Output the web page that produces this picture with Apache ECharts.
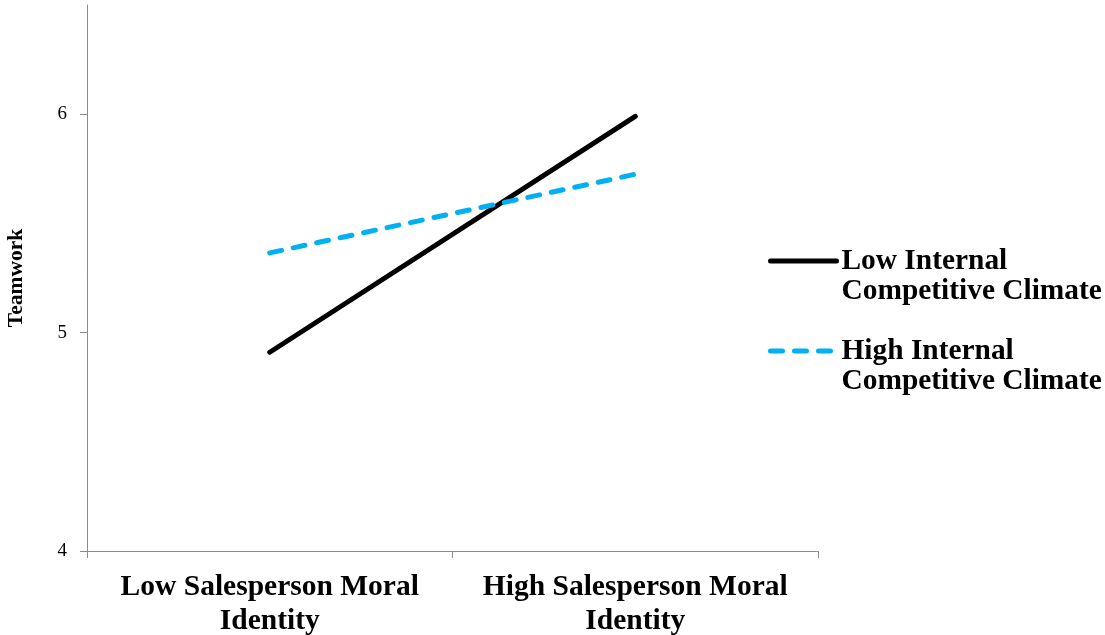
<!DOCTYPE html>
<html>
<head>
<meta charset="utf-8">
<script src="https://cdn.jsdelivr.net/npm/echarts@6/dist/echarts.min.js"></script>
<style>
html,body{margin:0;padding:0;background:#fff;}
#chart{width:1105px;height:635px;}
</style>
</head>
<body>
<div id="chart"></div>
<script>
const categories = ['Low Salesperson Moral\nIdentity', 'High Salesperson Moral\nIdentity'];
const seriesNames = ['Low Internal\nCompetitive Climate', 'High Internal\nCompetitive Climate'];
const lowClimate = [4.91, 5.99];
const highClimate = [5.365, 5.725];
const yTicks = [4, 5, 6];
const yTitle = 'Teamwork';

const font = '"Liberation Serif", "Times New Roman", serif';
const axisGrey = '#8c8c8c';

const chart = echarts.init(document.getElementById('chart'));
chart.setOption({
  backgroundColor: '#fff',
  animation: false,
  grid: { left: 87, right: 287, top: 5, bottom: 84, containLabel: false, outerBoundsMode: 'none' },
  xAxis: {
    type: 'category',
    data: categories,
    boundaryGap: true,
    axisLine: { show: true, lineStyle: { color: axisGrey, width: 1 } },
    axisTick: { show: true, length: 7, lineStyle: { color: axisGrey } },
    axisLabel: {
      fontFamily: font, fontWeight: 'bold', fontSize: 29.5, color: '#000',
      lineHeight: 34, margin: 19, interval: 0
    },
    splitLine: { show: false }
  },
  yAxis: {
    type: 'value',
    min: 4, max: 6.5, interval: 1,
    name: yTitle,
    nameLocation: 'middle',
    nameGap: 60,
    nameRotate: 90,
    nameTextStyle: { fontFamily: font, fontWeight: 'bold', fontSize: 21.5, color: '#000' },
    axisLine: { show: true, lineStyle: { color: axisGrey, width: 1 } },
    axisTick: { show: true, length: 7, lineStyle: { color: axisGrey },
      customValues: yTicks },
    axisLabel: {
      fontFamily: font, fontSize: 19, color: '#000', margin: 20,
      customValues: yTicks
    },
    splitLine: { show: false }
  },
  legend: {
    orient: 'vertical',
    left: 768, top: 216,
    padding: 0,
    itemWidth: 66, itemHeight: 20,
    itemGap: 0,
    data: seriesNames,
    itemStyle: { opacity: 0 },
    lineStyle: { width: 5 },
    textStyle: { fontFamily: font, fontWeight: 'bold', fontSize: 29.4, color: '#000', lineHeight: 30 },
    formatter: function (name) { return '\n' + name; }
  },
  series: [
    {
      name: seriesNames[0], type: 'line', data: lowClimate,
      symbol: 'none', smooth: false,
      lineStyle: { color: '#000', width: 5, cap: 'round' },
      itemStyle: { color: '#000' }
    },
    {
      name: seriesNames[1], type: 'line', data: highClimate,
      symbol: 'none', smooth: false,
      lineStyle: { color: '#00B0F0', width: 5, type: [12, 12], cap: 'round' },
      itemStyle: { color: '#00B0F0' }
    }
  ]
});
</script>
</body>
</html>
